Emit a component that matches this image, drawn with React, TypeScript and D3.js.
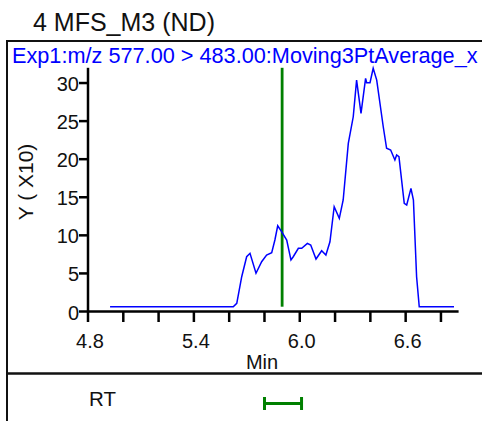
import * as d3 from "d3";

// chromatogram trace (min, Y x10)
const rtMin = [
  4.925, 5.623, 5.643, 5.671, 5.699, 5.718, 5.752, 5.784, 5.812, 5.841, 5.859,
  5.875, 5.897, 5.926, 5.95, 5.963, 5.992, 6.011, 6.043, 6.062, 6.092, 6.124,
  6.148, 6.171, 6.195, 6.224, 6.246, 6.275, 6.303, 6.322, 6.347, 6.373, 6.379,
  6.398, 6.416, 6.436, 6.473, 6.492, 6.515, 6.539, 6.549, 6.562, 6.592, 6.606,
  6.63, 6.644, 6.662, 6.677, 6.874,
];
const intensity = [
  0.63, 0.63, 1.08, 4.57, 7.19, 7.64, 5.02, 6.54, 7.42, 7.72, 9.39, 11.26,
  10.48, 9.39, 6.76, 7.19, 8.3, 8.3, 8.95, 8.73, 6.89, 7.98, 7.42, 9.16, 13.76,
  12.24, 14.64, 22.08, 25.57, 30.39, 26.02, 30.62, 30.04, 30.04, 31.93, 30.39,
  24.26, 21.43, 21.2, 19.89, 20.55, 20.32, 14.21, 13.98, 16.17, 14.64, 4.57,
  0.63, 0.63,
];

const xTicks = [4.8, 5.0, 5.2, 5.4, 5.6, 5.8, 6.0, 6.2, 6.4, 6.6, 6.8];
const xLabels = ["4.8", "5.4", "6.0", "6.6"];
const yTicks = [0, 5, 10, 15, 20, 25, 30];

const expectedRt = 5.9;
const rtWindow = [5.8, 6.01];

const title = "4 MFS_M3 (ND)";
const subtitle = "Exp1:m/z 577.00 > 483.00:Moving3PtAverage_x";

const W = 482;
const H = 421;
const font = "'Liberation Sans', Arial, sans-serif";

export default function App() {
  const x = d3.scaleLinear().domain([4.8, 6.9]).range([88, 458.6]);
  const y = d3.scaleLinear().domain([0, 32]).range([311.5, 67.8]);

  const pts = rtMin.map((t, i) => [t, intensity[i]] as [number, number]);
  const line = d3
    .line<[number, number]>()
    .x((d) => x(d[0]))
    .y((d) => y(d[1]));

  const x0 = x(4.8);
  const y0 = y(0);

  return (
    <svg
      width={W}
      height={H}
      style={{ position: "absolute", left: 0, top: 0, background: "#fff" }}
      fontFamily={font}
    >
      <rect x={0} y={0} width={W} height={H} fill="#fff" />

      <text x={33} y={31} fontSize={25} fill="#111">
        {title}
      </text>

      {/* frame */}
      <line x1={6} x2={W} y1={41} y2={41} stroke="#111" strokeWidth={2} />
      <line x1={7} x2={7} y1={40} y2={H} stroke="#111" strokeWidth={2} />
      <line x1={6} x2={W} y1={373.5} y2={373.5} stroke="#111" strokeWidth={2.5} />

      <text x={12} y={63} fontSize={21.7} fill="#0000ff">
        {subtitle}
      </text>

      {/* y axis */}
      <line x1={x0} x2={x0} y1={y(32)} y2={y0} stroke="#000" strokeWidth={2.5} />
      {yTicks.map((v) => (
        <g key={v}>
          <line x1={x0 - 9} x2={x0} y1={y(v)} y2={y(v)} stroke="#000" strokeWidth={2.5} />
          <text x={x0 - 9} y={y(v) + 8} fontSize={20} textAnchor="end" fill="#111">
            {v}
          </text>
        </g>
      ))}
      <text
        transform={`translate(33, 182) rotate(-90)`}
        fontSize={21}
        textAnchor="middle"
        fill="#111"
      >
        Y ( X10)
      </text>

      {/* x axis */}
      <line x1={x0} x2={458.6} y1={y0} y2={y0} stroke="#000" strokeWidth={2.5} />
      {xTicks.map((t) => (
        <line key={t} x1={x(t)} x2={x(t)} y1={y0} y2={y0 + 10.5} stroke="#000" strokeWidth={2.5} />
      ))}
      {xLabels.map((l) => (
        <text key={l} x={x(+l) + 2} y={348} fontSize={20} textAnchor="middle" fill="#111">
          {l}
        </text>
      ))}
      <text x={262} y={369} fontSize={20} textAnchor="middle" fill="#111">
        Min
      </text>

      {/* expected RT */}
      <line
        x1={x(expectedRt)}
        x2={x(expectedRt)}
        y1={y(32)}
        y2={y(0.63)}
        stroke="#008000"
        strokeWidth={2.8}
      />

      <path d={line(pts) ?? ""} fill="none" stroke="#0000ff" strokeWidth={1.5} />

      {/* RT window */}
      <text x={89} y={406} fontSize={20.5} fill="#111">
        RT
      </text>
      <g stroke="#008000" strokeWidth={3}>
        <line x1={x(rtWindow[0])} x2={x(rtWindow[1])} y1={403.5} y2={403.5} />
        <line x1={x(rtWindow[0])} x2={x(rtWindow[0])} y1={397} y2={410} />
        <line x1={x(rtWindow[1])} x2={x(rtWindow[1])} y1={397} y2={410} />
      </g>
    </svg>
  );
}
